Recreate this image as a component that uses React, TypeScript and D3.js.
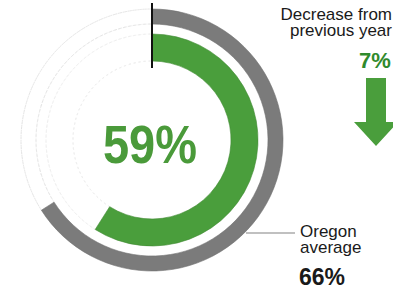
import { useEffect, useRef } from 'react';
import * as d3 from 'd3';

// chart data
const rateNames = ['School', 'Oregon average'];
const rateValues = [59, 66];
const changeLabels = ['Decrease from', 'previous year'];
const changeValues = [7];
const calloutLabels = ['Oregon', 'average'];

export default function App() {
  const svgRef = useRef<SVGSVGElement>(null);

  useEffect(() => {
    const width = 393;
    const height = 290;
    const cx = 152;
    const cy = 140;
    const font = '"Liberation Sans", Arial, sans-serif';

    const svg = d3.select(svgRef.current);
    svg.selectAll('*').remove();

    const angle = d3.scaleLinear().domain([0, 100]).range([0, 2 * Math.PI]);

    // rings: [inner, outer] radius for school (green) and state avg (gray)
    const rings = [
      { name: rateNames[0], inner: 79, outer: 106, color: '#4a9e3c', track: '#efefef' },
      { name: rateNames[1], inner: 116, outer: 131, color: '#7b7b7b', track: '#e4e4e4' },
    ];

    const g = svg.append('g').attr('transform', `translate(${cx},${cy})`);

    // faint dotted tracks for the remaining part
    rings.forEach((r, i) => {
      [r.inner, r.outer].forEach(rad => {
        const a = d3.arc()
          .innerRadius(rad)
          .outerRadius(rad)
          .startAngle(angle(rateValues[i]))
          .endAngle(2 * Math.PI);
        g.append('path')
          .attr('d', a({} as any) as string)
          .attr('fill', 'none')
          .attr('stroke', r.track)
          .attr('stroke-width', 1)
          .attr('stroke-dasharray', '2,3');
      });
    });

    rings.forEach((r, i) => {
      const a = d3.arc()
        .innerRadius(r.inner)
        .outerRadius(r.outer)
        .startAngle(0)
        .endAngle(angle(rateValues[i]));
      g.append('path')
        .attr('d', a({} as any) as string)
        .attr('fill', r.color)
        .attr('stroke', i === 0 ? '#3f8a33' : '#6e6e6e')
        .attr('stroke-width', 0.6);
    });

    // start marker
    g.append('line')
      .attr('x1', 0).attr('x2', 0)
      .attr('y1', -137).attr('y2', -72)
      .attr('stroke', '#111')
      .attr('stroke-width', 2);

    // centre value
    svg.append('text')
      .attr('x', 150)
      .attr('y', 163)
      .attr('text-anchor', 'middle')
      .attr('font-family', font)
      .attr('font-weight', 'bold')
      .attr('font-size', 54)
      .attr('textLength', 94)
      .attr('lengthAdjust', 'spacingAndGlyphs')
      .attr('fill', '#4a9a3a')
      .text(`${rateValues[0]}%`);

    // callout for state average
    const calloutY = 233;
    svg.append('line')
      .attr('x1', 246).attr('x2', 295)
      .attr('y1', calloutY).attr('y2', calloutY)
      .attr('stroke', '#ababab')
      .attr('stroke-width', 1.5);

    calloutLabels.forEach((t, i) => {
      svg.append('text')
        .attr('x', 300)
        .attr('y', 237 + i * 16)
        .attr('font-family', font)
        .attr('font-size', 17)
        .attr('fill', '#1a1a1a')
        .text(t);
    });
    svg.append('text')
      .attr('x', 299)
      .attr('y', 285)
      .attr('font-family', font)
      .attr('font-weight', 'bold')
      .attr('font-size', 23)
      .attr('fill', '#1a1a1a')
      .text(`${rateValues[1]}%`);

    // change vs previous year
    changeLabels.forEach((t, i) => {
      svg.append('text')
        .attr('x', 392)
        .attr('y', 20 + i * 16)
        .attr('text-anchor', 'end')
        .attr('font-family', font)
        .attr('font-size', 17)
        .attr('fill', '#1a1a1a')
        .text(t);
    });
    svg.append('text')
      .attr('x', 375)
      .attr('y', 68)
      .attr('text-anchor', 'middle')
      .attr('font-family', font)
      .attr('font-weight', 'bold')
      .attr('font-size', 22)
      .attr('fill', '#2f8a2c')
      .text(`${changeValues[0]}%`);

    // down arrow
    const ax = 376;
    const arrow = d3.path();
    arrow.moveTo(ax - 10, 78);
    arrow.lineTo(ax + 10, 78);
    arrow.lineTo(ax + 10, 122);
    arrow.lineTo(ax + 22, 122);
    arrow.lineTo(ax, 146);
    arrow.lineTo(ax - 22, 122);
    arrow.lineTo(ax - 10, 122);
    arrow.closePath();
    svg.append('path')
      .attr('d', arrow.toString())
      .attr('fill', '#4a9e3c');

    svg.attr('width', width).attr('height', height);
  }, []);

  return (
    <div style={{ position: 'fixed', top: 0, left: 0, background: '#fff' }}>
      <svg ref={svgRef} width={393} height={290} style={{ display: 'block' }} />
    </div>
  );
}
